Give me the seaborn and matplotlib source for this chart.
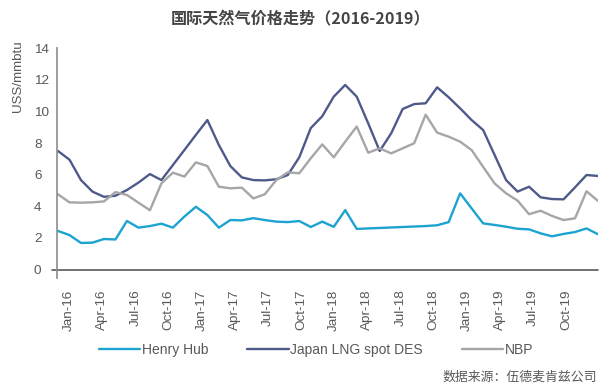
import numpy as np
import pandas as pd
import matplotlib
matplotlib.use("Agg")
import matplotlib.pyplot as plt
import seaborn as sns

# ---- data (monthly, Jan-2016 .. Dec-2019) ----
months = list(range(48))
henry_hub = [2.44, 2.18, 1.68, 1.70, 1.93, 1.90, 3.07, 2.65, 2.75, 2.90, 2.65, 3.35,
             3.97, 3.45, 2.65, 3.13, 3.11, 3.25, 3.13, 3.03, 3.00, 3.07, 2.69, 3.03,
             2.70, 3.76, 2.57, 2.60, 2.63, 2.66, 2.69, 2.72, 2.75, 2.80, 3.00, 4.82,
             3.87, 2.92, 2.82, 2.71, 2.58, 2.54, 2.29, 2.10, 2.25, 2.37, 2.60, 2.23]
japan_lng = [7.50, 6.95, 5.66, 4.93, 4.60, 4.67, 5.03, 5.50, 6.04, 5.66, 6.61, 7.56,
             8.52, 9.46, 7.88, 6.55, 5.83, 5.66, 5.64, 5.71, 5.98, 7.10, 8.95, 9.70,
             10.94, 11.68, 10.94, 9.25, 7.50, 8.62, 10.16, 10.47, 10.52, 11.53, 10.90, 10.20,
             9.46, 8.83, 7.25, 5.66, 4.93, 5.24, 4.57, 4.46, 4.44, 5.20, 5.98, 5.92]
nbp = [4.76, 4.25, 4.23, 4.25, 4.31, 4.90, 4.72, 4.23, 3.75, 5.45, 6.13, 5.88,
       6.78, 6.55, 5.24, 5.14, 5.18, 4.50, 4.76, 5.66, 6.15, 6.09, 7.04, 7.92,
       7.10, 8.09, 9.05, 7.39, 7.67, 7.35, 7.67, 7.99, 9.80, 8.66, 8.41, 8.09,
       7.56, 6.50, 5.45, 4.82, 4.36, 3.50, 3.72, 3.39, 3.13, 3.24, 4.95, 4.34]
series_names = ["Henry Hub", "Japan LNG spot DES", "NBP"]
tick_labels = ["Jan-16", "Apr-16", "Jul-16", "Oct-16", "Jan-17", "Apr-17", "Jul-17", "Oct-17",
               "Jan-18", "Apr-18", "Jul-18", "Oct-18", "Jan-19", "Apr-19", "Jul-19", "Oct-19"]
y_ticks = [0, 2, 4, 6, 8, 10, 12, 14]
title = "国际天然气价格走势（2016-2019）"
y_label = "USS/mmbtu"
source = "数据来源：伍德麦肯兹公司"

colors = ["#1CA3D0", "#4E5A8A", "#A6A6A6"]
text_color = "#595959"

df = pd.DataFrame({
    "month": months * 3,
    "value": henry_hub + japan_lng + nbp,
    "series": [series_names[0]] * 48 + [series_names[1]] * 48 + [series_names[2]] * 48,
})

sns.set_theme(style="white")
plt.rcParams["font.family"] = ["Liberation Sans", "Noto Sans CJK SC", "DejaVu Sans"]

fig = plt.figure(figsize=(6.01, 3.89), dpi=100)
ax = fig.add_axes([57 / 601, (389 - 278.2) / 389, 541 / 601, (278.2 - 48.3) / 389])

sns.lineplot(data=df, x="month", y="value", hue="series", palette=colors,
             hue_order=series_names, linewidth=1.7, ax=ax, legend=False)

ax.set_xlim(-1 / 11.49, 47)
ax.set_ylim(-0.55, 14)
ax.set_xlabel("")
ax.set_ylabel("")

# spines
for s in ["top", "right", "bottom"]:
    ax.spines[s].set_visible(False)
ax.spines["left"].set_color("#8C8C8C")
ax.spines["left"].set_linewidth(1.2)
ax.axhline(0, xmin=-0.01, xmax=1.0, color="#595959", lw=1.2, clip_on=False, zorder=1)

# ticks
tick_pos = [0.957 + 2.886 * k for k in range(len(tick_labels))]
ax.set_xticks(tick_pos)
ax.set_xticklabels(tick_labels, rotation=90, fontsize=9.7, color=text_color)
ax.set_yticks(y_ticks)
ax.set_yticklabels([str(v) for v in y_ticks], fontsize=9.7, color=text_color)
ax.tick_params(axis="x", length=0, pad=8)
ax.tick_params(axis="y", length=0, pad=16.6)
for lab in ax.get_yticklabels():
    lab.set_horizontalalignment("left")

# legend
handles = [plt.Line2D([0], [0], color=c, lw=1.7) for c in colors]
leg = ax.legend(handles, series_names, loc="center", ncol=3, frameon=False,
                bbox_to_anchor=(316 / 601, 1 - 350 / 389), bbox_transform=fig.transFigure,
                fontsize=10, handlelength=3.0, handletextpad=0.1, columnspacing=2.8)
for t in leg.get_texts():
    t.set_color(text_color)

# texts
fig.text(301 / 601, 1 - 19 / 389, title, ha="center", va="center", fontsize=11.6,
         fontweight="bold", color="#454545", family=["Noto Sans CJK SC", "DejaVu Sans"])
fig.text(18 / 601, 1 - 76 / 389, y_label, rotation=90, ha="center", va="center",
         fontsize=9.6, color=text_color)
fig.text(597 / 601, 1 - 377 / 389, source, ha="right", va="center", fontsize=9.3,
         color=text_color, family=["Noto Sans CJK SC", "DejaVu Sans"])

fig.savefig("out.png", dpi=100, facecolor="white")
